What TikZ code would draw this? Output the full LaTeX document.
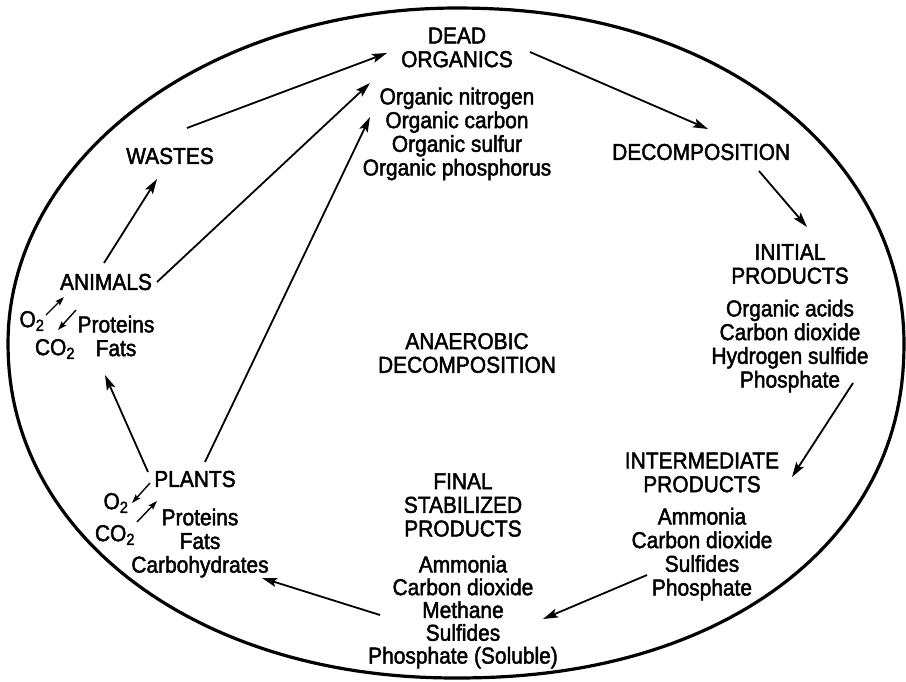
\documentclass[tikz,border=0pt]{standalone}
\usepackage{fontspec}
\setmainfont{Liberation Sans}[FakeStretch=0.91,FakeBold=2]
\usetikzlibrary{arrows.meta}
\begin{document}
\begin{tikzpicture}[x=1pt,y=-1pt,
  lbl/.style={inner sep=0pt, align=center, font=\fontsize{23}{23.7}\selectfont},
  tight/.style={font=\fontsize{23}{22.8}\selectfont},
  arr/.style={line width=1.8pt, -{Stealth[length=15pt,width=9pt,inset=3pt]}},
  sarr/.style={line width=1.4pt, -{Stealth[length=9pt,width=6pt,inset=1.5pt]}},
  ring/.style={line width=3.2pt, line join=round}]
\useasboundingbox (0,0) rectangle (906,681);
% outer oval: right half slightly fuller than the left half
\draw[ring] plot[domain=-90:90, samples=121, variable=\t]
  ({456+448*cos(\t)*pow(max(abs(cos(\t)),0.0001),2/2.15-1)},
   {343+335*sin(\t)*pow(max(abs(sin(\t)),0.0001),2/(\t>0?2.15:2.0)-1)})
  -- plot[domain=90:270, samples=121, variable=\t]
  ({456+448*cos(\t)*pow(max(abs(cos(\t)),0.0001),2/(\t<180?2.08:2.0)-1)},
   {343+335*sin(\t)*pow(max(abs(sin(\t)),0.0001),2/(\t<180?2.08:2.0)-1)}) -- cycle;

% text blocks
\node[lbl] (dead) at (457,47.5) {DEAD\\ORGANICS};
\node[lbl] (organics) at (457,134) {Organic nitrogen\\Organic carbon\\Organic sulfur\\Organic phosphorus};
\node[lbl] (wastes) at (170,156) {WASTES};
\node[lbl,anchor=west] (decomp) at (612,152) {DECOMPOSITION};
\node[lbl] (initial) at (790,264) {INITIAL\\PRODUCTS};
\node[lbl] (initlist) at (790,346) {Organic acids\\Carbon dioxide\\Hydrogen sulfide\\Phosphate};
\node[lbl] (inter) at (702,472.5) {INTERMEDIATE\\PRODUCTS};
\node[lbl] (interlist) at (702,554) {Ammonia\\Carbon dioxide\\Sulfides\\Phosphate};
\node[lbl] (final) at (463,505) {FINAL\\STABILIZED\\PRODUCTS};
\node[lbl,tight] (finallist) at (463,612) {Ammonia\\Carbon dioxide\\Methane\\Sulfides\\Phosphate (Soluble)};
\node[lbl] (anaer) at (467,353) {ANAEROBIC\\DECOMPOSITION};
\node[lbl] (animals) at (106,282) {ANIMALS};
\node[lbl] (ao2) at (32,321) {O\textsubscript{2}};
\node[lbl] (aco2) at (55,349) {CO\textsubscript{2}};
\node[lbl] (aprot) at (116,336) {Proteins\\Fats};
\node[lbl] (plants) at (195,479) {PLANTS};
\node[lbl] (po2) at (116,503) {O\textsubscript{2}};
\node[lbl] (pco2) at (115,535) {CO\textsubscript{2}};
\node[lbl] (pprot) at (200,543) {Proteins\\Fats\\Carbohydrates};

% connector end points
\coordinate (wS) at (187,128);  \coordinate (dW) at (387,53);
\coordinate (aE) at (157,282);  \coordinate (oA) at (370,83);
\coordinate (pN) at (205,462);  \coordinate (oP) at (370,117);
\coordinate (dE) at (530,52);   \coordinate (cN) at (708,129);
\coordinate (cS) at (759,171);  \coordinate (iN) at (807,227);
\coordinate (iS) at (853,383);  \coordinate (mN) at (792,477);
\coordinate (mS) at (647,575);  \coordinate (fE) at (543,619);
\coordinate (fW) at (380,615);  \coordinate (cE) at (262,578);
\coordinate (pW) at (148,472);  \coordinate (aS) at (105,375);
\coordinate (aN) at (104,263);  \coordinate (wN) at (157,179);
\coordinate (ao2a) at (46,315); \coordinate (ao2b) at (64,297);
\coordinate (aco2a) at (76,310); \coordinate (aco2b) at (58,330);
\coordinate (po2a) at (150,483); \coordinate (po2b) at (132,503);
\coordinate (pco2a) at (137,522); \coordinate (pco2b) at (157,501);

% connectors
\draw[arr] (wS) -- (dW);
\draw[arr] (aE) -- (oA);
\draw[arr] (pN) -- (oP);
\draw[arr] (dE) -- (cN);
\draw[arr] (cS) -- (iN);
\draw[arr] (iS) -- (mN);
\draw[arr] (mS) -- (fE);
\draw[arr] (fW) -- (cE);
\draw[arr] (pW) -- (aS);
\draw[arr] (aN) -- (wN);
\draw[sarr] (ao2a) -- (ao2b);
\draw[sarr] (aco2a) -- (aco2b);
\draw[sarr] (po2a) -- (po2b);
\draw[sarr] (pco2a) -- (pco2b);
\end{tikzpicture}
\end{document}
